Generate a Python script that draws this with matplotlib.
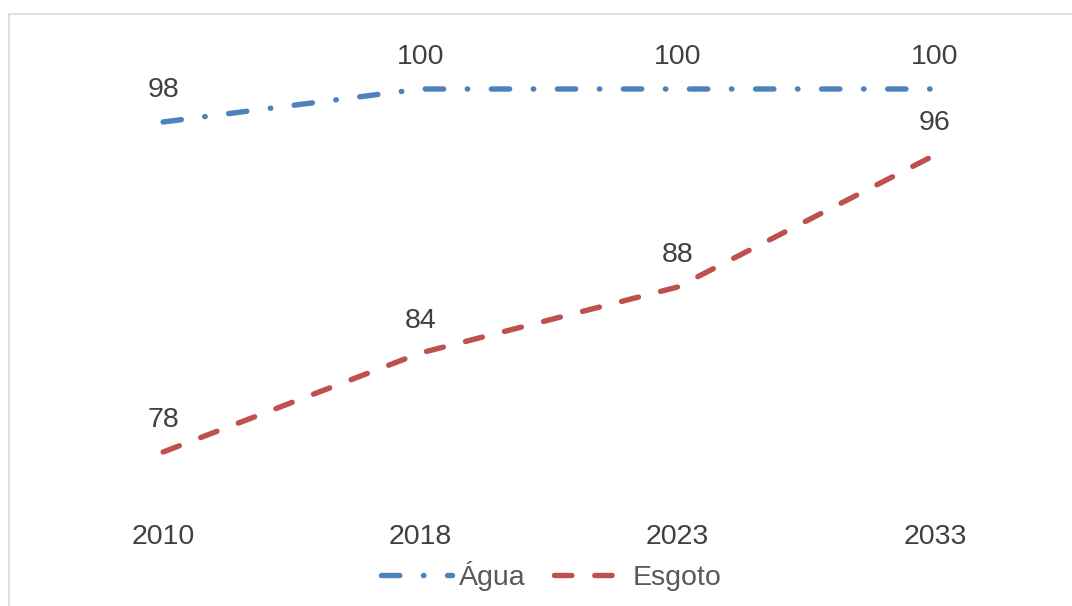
import matplotlib
matplotlib.use("Agg")
import matplotlib.pyplot as plt
from matplotlib.patches import Rectangle

plt.rcParams['font.family'] = ['Liberation Sans', 'DejaVu Sans']
plt.rcParams['lines.scale_dashes'] = False

anos = ["2010", "2018", "2023", "2033"]
agua = [98, 100, 100, 100]
esgoto = [78, 84, 88, 96]

AZUL = "#4F81BD"
VERMELHO = "#C0504D"
TEXTO = "#404040"
FS = 20.5

W, H = 1072, 606
fig = plt.figure(figsize=(W / 100, H / 100), dpi=100)

# plot area in pixel terms
left, right = 34.5, 1063.6
bottom, top = 501.5, 39.5
ax = fig.add_axes([left / W, 1 - bottom / H, (right - left) / W, (bottom - top) / H])
ax.set_xlim(-0.5, len(anos) - 0.5)
ax.set_ylim(75, 103)

x = list(range(len(anos)))
lw = 3.9
l1, = ax.plot(x, agua, color=AZUL, lw=lw, dash_capstyle='round',
              dashes=(13.2, 17.0, 0.36, 17.0), label="Água")
l2, = ax.plot(x, esgoto, color=VERMELHO, lw=lw, dash_capstyle='round',
              dashes=(12.5, 16.5), label="Esgoto")

for serie in (agua, esgoto):
    for xi, v in zip(x, serie):
        ax.annotate(f"{v}", (xi, v), xytext=(0, 32), textcoords='offset pixels',
                    ha='center', va='center', fontsize=FS, color=TEXTO)

ax.set_xticks(x)
ax.set_xticklabels(anos, fontsize=FS, color=TEXTO)
ax.tick_params(axis='x', length=0, pad=16)
ax.set_yticks([])
for s in ax.spines.values():
    s.set_visible(False)
ax.patch.set_alpha(0)

leg = fig.legend(handles=[l1, l2], loc='center', ncol=2,
                 bbox_to_anchor=(551 / W, 1 - 576 / H), frameon=False,
                 fontsize=FS, handlelength=2.5, handletextpad=0.25,
                 columnspacing=1.0)
for t in leg.get_texts():
    t.set_color("#595959")

# chart area border
fig.patches.append(Rectangle((9 / W, -0.1), 1.2, 1 - 14 / H + 0.1,
                             transform=fig.transFigure, fill=False,
                             edgecolor="#D9D9D9", lw=1.2))

fig.savefig("out.png", dpi=100)
